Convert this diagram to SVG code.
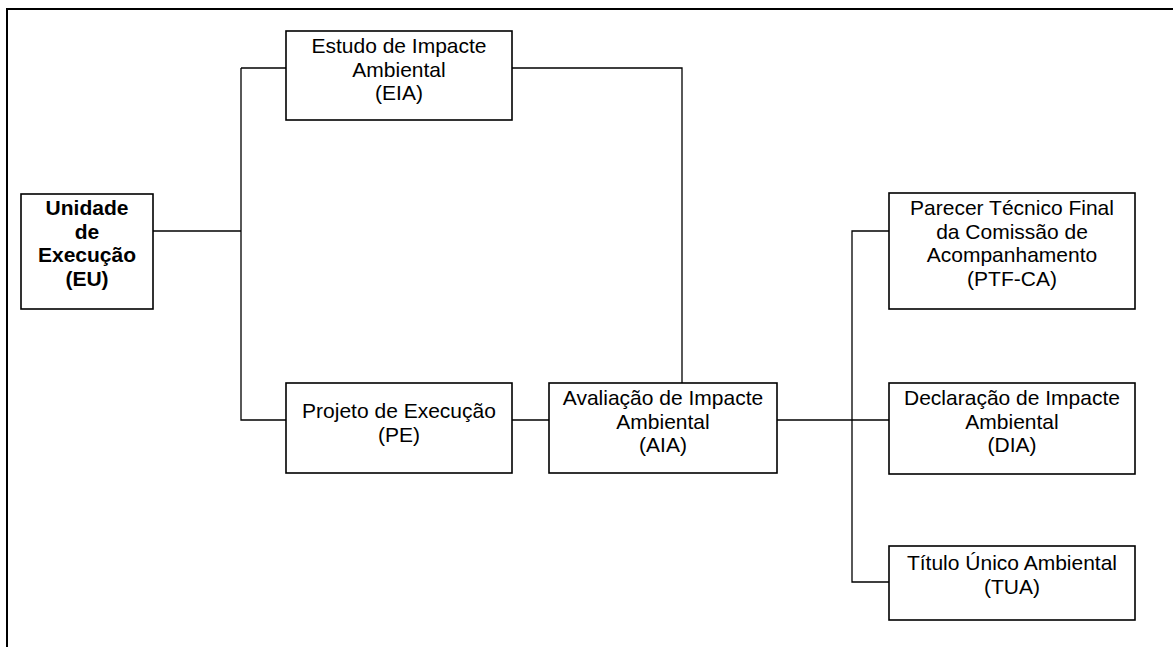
<svg xmlns="http://www.w3.org/2000/svg" width="1173" height="647" viewBox="0 0 1173 647">
<style>
.box{fill:#fff;stroke:#000;stroke-width:1.6}
.c{fill:none;stroke:#000;stroke-width:1.3}
text{font-family:"Liberation Sans",Arial,sans-serif;font-size:21px;fill:#000;text-anchor:middle}
.b{font-weight:bold}
</style>
<rect width="1173" height="647" fill="#fff"/>
<path d="M7,647 V9 H1173" fill="none" stroke="#000" stroke-width="2"/>
<g id="connectors">
<path class="c" d="M153,231 H241"/>
<path class="c" d="M241,68 V420 H286"/>
<path class="c" d="M241,68 H286"/>
<path class="c" d="M512,68 H682 V383"/>
<path class="c" d="M512,420 H549"/>
<path class="c" d="M777,420 H889"/>
<path class="c" d="M889,231 H852 V582 H889"/>
</g>
<g id="EU">
<rect class="box" x="21" y="194" width="132" height="115"/>
<text class="b" x="87" y="215">Unidade</text>
<text class="b" x="87" y="238.5">de</text>
<text class="b" x="87" y="262">Execução</text>
<text class="b" x="87" y="285.5">(EU)</text>
</g>
<g id="EIA">
<rect class="box" x="286" y="31" width="226" height="89"/>
<text x="399" y="53">Estudo de Impacte</text>
<text x="399" y="76.5">Ambiental</text>
<text x="399" y="100">(EIA)</text>
</g>
<g id="PE">
<rect class="box" x="286" y="383" width="226" height="90"/>
<text x="399" y="418">Projeto de Execução</text>
<text x="399" y="441.5">(PE)</text>
</g>
<g id="AIA">
<rect class="box" x="549" y="383" width="228" height="90"/>
<text x="663" y="405">Avaliação de Impacte</text>
<text x="663" y="428.5">Ambiental</text>
<text x="663" y="452">(AIA)</text>
</g>
<g id="PTF-CA">
<rect class="box" x="889" y="193" width="246" height="116"/>
<text x="1012" y="215">Parecer Técnico Final</text>
<text x="1012" y="238.5">da Comissão de</text>
<text x="1012" y="262">Acompanhamento</text>
<text x="1012" y="285.5">(PTF-CA)</text>
</g>
<g id="DIA">
<rect class="box" x="889" y="383" width="246" height="91"/>
<text x="1012" y="405">Declaração de Impacte</text>
<text x="1012" y="428.5">Ambiental</text>
<text x="1012" y="452">(DIA)</text>
</g>
<g id="TUA">
<rect class="box" x="889" y="546" width="246" height="74"/>
<text x="1012" y="570">Título Único Ambiental</text>
<text x="1012" y="593.5">(TUA)</text>
</g>
</svg>
